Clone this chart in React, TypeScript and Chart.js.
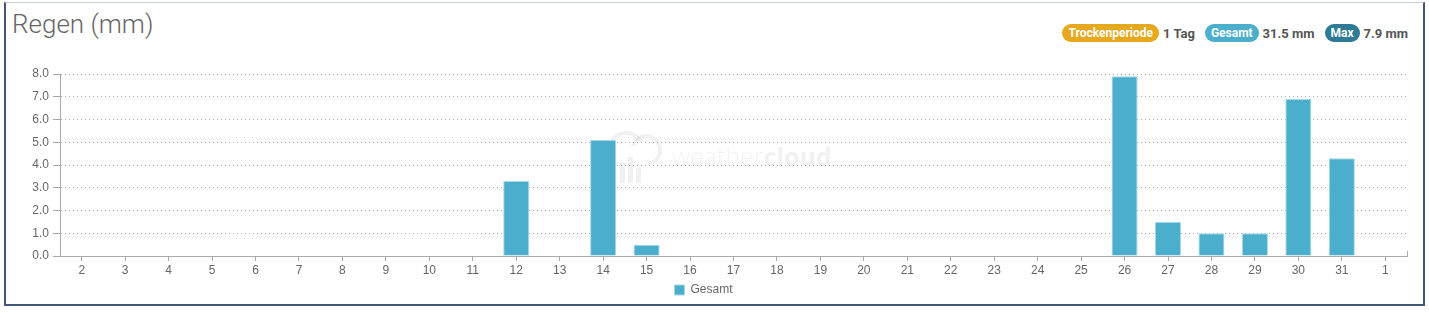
import React, { useEffect, useRef } from "react";
import { Chart, registerables } from "chart.js";

Chart.register(...registerables);

const categories = ["2","3","4","5","6","7","8","9","10","11","12","13","14","15","16","17","18","19","20","21","22","23","24","25","26","27","28","29","30","31","1"];
const rain = [0,0,0,0,0,0,0,0,0,0,3.3,0,5.1,0.5,0,0,0,0,0,0,0,0,0,0,7.9,1.5,1.0,1.0,6.9,4.3,0];
const yTicks = [0,1,2,3,4,5,6,7,8];
const seriesName = "Gesamt";
const titleText = "Regen (mm)";
const badges = [
  { label: "Trockenperiode", value: "1 Tag", color: "#e6a81c" },
  { label: "Gesamt", value: "31.5 mm", color: "#4aaecc" },
  { label: "Max", value: "7.9 mm", color: "#2f7b95" },
];

const FONT = "'Liberation Sans', Arial, sans-serif";

const watermark = {
  id: "watermark",
  beforeDatasetsDraw(chart: any) {
    const ctx = chart.ctx;
    ctx.save();
    const c = "rgba(0,0,0,0.055)";
    ctx.strokeStyle = c;
    ctx.fillStyle = c;
    ctx.lineWidth = 4;
    ctx.beginPath();
    ctx.arc(646, 150, 14, -Math.PI * 0.9, Math.PI * 0.45);
    ctx.stroke();
    ctx.beginPath();
    ctx.arc(626, 150, 17, Math.PI * 0.95, -Math.PI * 0.15);
    ctx.stroke();
    ctx.fillRect(620, 163, 5, 20);
    ctx.fillRect(628, 157, 5, 26);
    ctx.fillRect(636, 168, 5, 15);
    ctx.font = "300 25px 'Open Sans', sans-serif";
    ctx.textBaseline = "alphabetic";
    ctx.fillText("weather", 672, 166);
    const w = ctx.measureText("weather").width;
    ctx.font = "700 25px 'Open Sans', sans-serif";
    ctx.fillText("cloud", 672 + w, 166);
    ctx.restore();
  },
  afterDraw(chart: any) {
    const ctx = chart.ctx;
    const a = chart.chartArea;
    ctx.save();
    ctx.strokeStyle = "#aaaaaa";
    ctx.lineWidth = 1;
    ctx.beginPath();
    ctx.moveTo(Math.round(a.right) + 0.5, a.bottom);
    ctx.lineTo(Math.round(a.right) + 0.5, a.bottom - 5);
    ctx.stroke();
    ctx.restore();
  },
};

export default function App() {
  const ref = useRef<HTMLCanvasElement>(null);
  useEffect(() => {
    if (!ref.current) return;
    const chart = new Chart(ref.current, {
      type: "bar",
      data: {
        labels: categories,
        datasets: [
          {
            label: seriesName,
            data: rain,
            backgroundColor: "#4aaecc",
            borderColor: "#a7d8e7",
            borderWidth: 1,
            barPercentage: 0.6,
            categoryPercentage: 1,
          },
        ],
      },
      options: {
        animation: false,
        responsive: false,
        layout: { padding: { left: 0, right: 22, top: 74, bottom: 6 } },
        plugins: {
          tooltip: { enabled: false },
          legend: {
            position: "bottom",
            labels: {
              boxWidth: 10,
              boxHeight: 10,
              color: "#666",
              font: { family: FONT, size: 12 },
              padding: 8,
            },
          },
        },
        scales: {
          x: {
            offset: true,
            grid: {
              offset: false,
              drawOnChartArea: false,
              tickLength: 5,
              tickColor: "#aaaaaa",
            },
            border: { color: "#aaaaaa", width: 1 },
            ticks: {
              color: "#666",
              font: { family: FONT, size: 12 },
              padding: 2,
              maxRotation: 0,
              autoSkip: false,
            },
            afterFit: (s: any) => {
              s.height = 20;
            },
          },
          y: {
            min: 0,
            max: 8,
            afterBuildTicks: (s: any) => {
              s.ticks = yTicks.map((v) => ({ value: v }));
            },
            grid: {
              color: "#aaaaaa",
              tickLength: 7,
              tickColor: "#aaaaaa",
              tickBorderDash: [],
            },
            border: { color: "#aaaaaa", width: 1, dash: [1, 3] },
            ticks: {
              color: "#666",
              font: { family: FONT, size: 12 },
              padding: 4,
              callback: (v: any) => Number(v).toFixed(1),
            },
            afterFit: (s: any) => {
              s.width = 60;
            },
          },
        },
      },
      plugins: [watermark],
    });
    return () => chart.destroy();
  }, []);

  return (
    <div style={{ position: "fixed", left: 0, top: 0, width: 1429, height: 312, background: "#fff" }}>
      <div
        style={{
          position: "absolute",
          left: 4,
          top: 2,
          width: 1421,
          height: 304,
          boxSizing: "border-box",
          borderLeft: "2px solid #42567a",
          borderRight: "2px solid #42567a",
          borderBottom: "2px solid #42567a",
          borderTop: "1px solid #c9cfd9",
        }}
      />
      <div
        style={{
          position: "absolute",
          left: 12,
          top: 9,
          fontFamily: "Roboto, sans-serif",
          fontWeight: 300,
          fontSize: 26,
          color: "#666",
          lineHeight: "30px",
        }}
      >
        {titleText}
      </div>
      <div
        style={{
          position: "absolute",
          right: 21,
          top: 24,
          display: "flex",
          alignItems: "center",
          fontFamily: "Roboto, sans-serif",
          fontWeight: 700,
          fontSize: 13,
        }}
      >
        {badges.map((b, i) => (
          <React.Fragment key={b.label}>
            <span
              style={{
                background: b.color,
                color: "#fff",
                borderRadius: 9,
                padding: "0 6px",
                height: 18,
                lineHeight: "18px",
                fontSize: 12,
                marginLeft: i === 0 ? 0 : 10,
              }}
            >
              {b.label}
            </span>
            <span style={{ color: "#555", marginLeft: 4 }}>{b.value}</span>
          </React.Fragment>
        ))}
      </div>
      <canvas
        ref={ref}
        width={1429}
        height={312}
        style={{ position: "absolute", left: 0, top: 0, width: 1429, height: 312 }}
      />
    </div>
  );
}
